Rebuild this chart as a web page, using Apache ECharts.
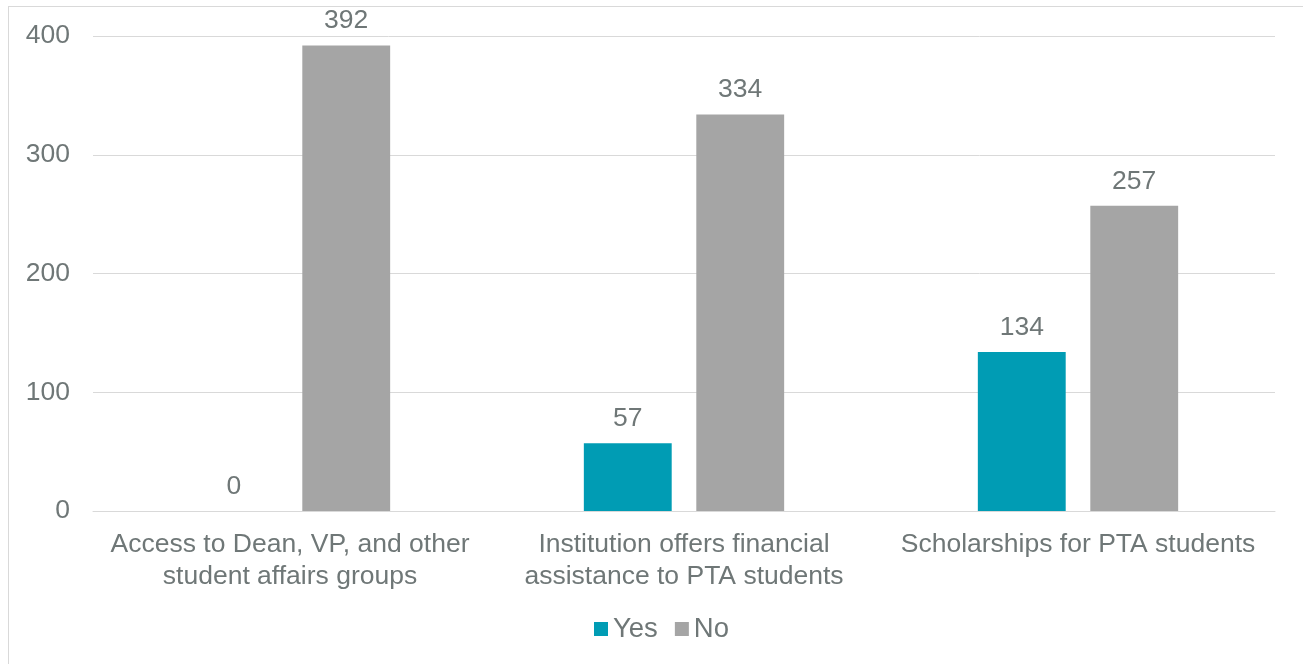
<!DOCTYPE html>
<html>
<head>
<meta charset="utf-8">
<script src="https://cdn.jsdelivr.net/npm/echarts@6/dist/echarts.min.js"></script>
<style>
  html, body { margin: 0; padding: 0; background: #fff; }
  #frame { position: absolute; left: 8px; top: 6px; width: 1310px; height: 680px; border: 1px solid #d9d9d9; }
  #main { position: absolute; left: 0; top: 0; width: 1303px; height: 664px; }
</style>
</head>
<body>
<div id="frame"></div>
<div id="main"></div>
<script>
// categories (line breaks as in the picture)
const categories = [
  'Access to Dean, VP, and other\nstudent affairs groups',
  'Institution offers financial\nassistance to PTA students',
  'Scholarships for PTA students'
];
const yesValues = [0, 57, 134];
const noValues = [392, 334, 257];

const textColor = '#6f7777';
const font = 'Liberation Sans, Arial, sans-serif';
const fs = 26.5;

var myChart = echarts.init(document.getElementById('main'));
let option = {
  animation: false,
  textStyle: { fontFamily: font },
  grid: {
    left: 93,
    right: 28,
    top: 36,
    bottom: 153
  },
  legend: {
    bottom: 16,
    left: 589,
    itemWidth: 14,
    itemHeight: 14,
    itemGap: 17,
    icon: 'rect',
    textStyle: { color: textColor, fontSize: 27.5, fontFamily: font },
    data: ['Yes', 'No']
  },
  xAxis: {
    type: 'category',
    data: categories,
    axisLine: { lineStyle: { color: '#d9d9d9' } },
    axisTick: { show: false },
    axisLabel: {
      color: textColor,
      fontSize: fs,
      fontFamily: font,
      lineHeight: 32,
      margin: 18,
      interval: 0
    }
  },
  yAxis: {
    type: 'value',
    min: 0,
    max: 400,
    interval: 100,
    axisLine: { show: false },
    axisTick: { show: false },
    axisLabel: { color: textColor, fontSize: fs, fontFamily: font, margin: 23 },
    splitLine: { lineStyle: { color: '#d9d9d9', width: 1 } }
  },
  series: [
    {
      name: 'Yes',
      type: 'bar',
      data: yesValues,
      barWidth: '22.3%',
      barGap: '28%',
      itemStyle: { color: '#009cb4' },
      label: { show: true, position: 'top', color: textColor, fontSize: fs, fontFamily: font, distance: 11 }
    },
    {
      name: 'No',
      type: 'bar',
      data: noValues,
      barWidth: '22.3%',
      barGap: '28%',
      itemStyle: { color: '#a5a5a5' },
      label: { show: true, position: 'top', color: textColor, fontSize: fs, fontFamily: font, distance: 11 }
    }
  ]
};
myChart.setOption(option);
</script>
</body>
</html>
